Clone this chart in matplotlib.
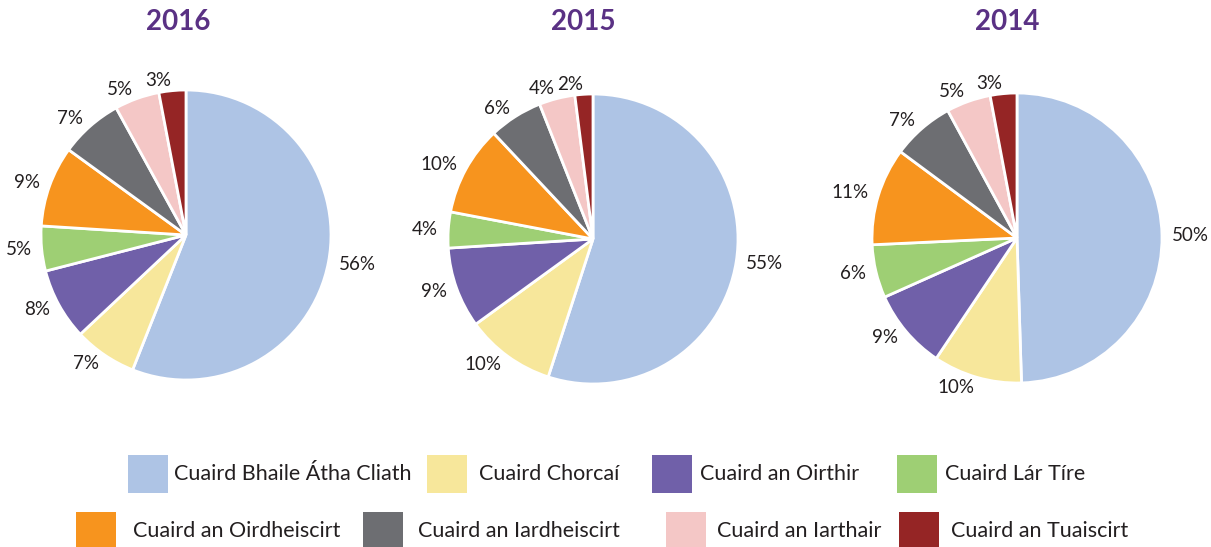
import matplotlib
matplotlib.use("Agg")
import matplotlib.pyplot as plt
from matplotlib.patches import Rectangle

years = ["2016", "2015", "2014"]
categories = ["Cuaird Bhaile Átha Cliath", "Cuaird Chorcaí", "Cuaird an Oirthir",
              "Cuaird Lár Tíre", "Cuaird an Oirdheiscirt", "Cuaird an Iardheiscirt",
              "Cuaird an Iarthair", "Cuaird an Tuaiscirt"]
values_2016 = [56, 7, 8, 5, 9, 7, 5, 3]
values_2015 = [55, 10, 9, 4, 10, 6, 4, 2]
values_2014 = [50, 10, 9, 6, 11, 7, 5, 3]
colors = ["#aec4e5", "#f7e79b", "#7060a9", "#9ecf74", "#f7941e", "#6d6e72",
          "#f4c7c6", "#952525"]

plt.rcParams['font.family'] = ['Lato', 'DejaVu Sans']

W, H = 1211, 547
fig = plt.figure(figsize=(W / 100, H / 100), dpi=100)

centers = [(186, 235), (593, 239), (1017, 238)]
title_x = [178, 583, 1007]
R = 145
all_vals = [values_2016, values_2015, values_2014]

for (cx, cy), tx, yr, vals in zip(centers, title_x, years, all_vals):
    ax = fig.add_axes([(cx - R) / W, (H - cy - R) / H, 2 * R / W, 2 * R / H])
    wedges, texts = ax.pie(vals, colors=colors, startangle=90, counterclock=False,
                           labels=[f"{v}%" for v in vals], labeldistance=1.07,
                           wedgeprops=dict(edgecolor="white", linewidth=2),
                           textprops=dict(fontsize=13.5, color="#231f20"))
    ax.set_xlim(-1, 1)
    ax.set_ylim(-1, 1)
    ax.set_aspect("equal")
    ax.axis("off")
    fig.text(tx / W, 1 - 22 / H, yr, ha="center", va="center", fontsize=20,
             fontweight="bold", color="#5a3184")

# legend (manual layout)
patch_x = [128, 427, 652, 897, 76, 363, 666, 899]
text_x = [174, 479, 700, 945, 133, 418, 717, 951]
row_y = [474, 531]
for i, (lab, col) in enumerate(zip(categories, colors)):
    ry = row_y[i // 4]
    fig.patches.append(Rectangle((patch_x[i] / W, (H - ry - 19) / H), 40 / W, 38 / H,
                                 transform=fig.transFigure, facecolor=col,
                                 edgecolor="none"))
    fig.text(text_x[i] / W, 1 - ry / H, lab, ha="left", va="center", fontsize=15.5,
             color="#231f20")

fig.savefig("out.png", dpi=100)
